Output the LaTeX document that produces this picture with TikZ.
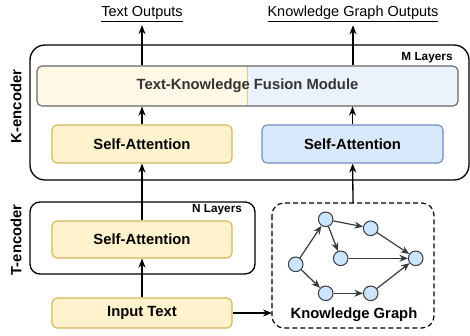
\documentclass[tikz,border=0pt]{standalone}
\usepackage{xcolor}
\usepackage{fontspec}
\setmainfont{Liberation Sans}
\usetikzlibrary{arrows.meta,positioning,calc}

\definecolor{yelfill}{HTML}{FFF2CC}
\definecolor{yelline}{HTML}{D6B656}
\definecolor{bluefill}{HTML}{DAE8FC}
\definecolor{blueline}{HTML}{6C8EBF}
\definecolor{fuseyel}{HTML}{FFF8E6}
\definecolor{fuseblue}{HTML}{EBF2FC}
\definecolor{nodefill}{HTML}{CCE5FF}
\definecolor{darkline}{HTML}{36393D}
\definecolor{fusetext}{HTML}{333333}

\tikzset{
	bigfont/.style={font=\fontsize{14.8}{16}\selectfont\bfseries},
	smallfont/.style={font=\fontsize{11.8}{13}\selectfont\bfseries},
	yelbox/.style={draw=yelline, fill=yelfill, line width=1.1pt, rounded corners=5pt, minimum width=180pt, bigfont},
	bluebox/.style={draw=blueline, fill=bluefill, line width=1.1pt, rounded corners=5pt, minimum width=181pt, bigfont},
	encbox/.style={draw, line width=1.3pt},
	kgnode/.style={circle, draw=darkline, fill=nodefill, line width=1pt, minimum size=14.6pt, inner sep=0pt},
	kgedge/.style={draw=darkline, line width=1.2pt, -{Stealth[length=8.5pt,width=7pt]}},
	flow/.style={line width=1.3pt, -{Stealth[length=9pt,width=7pt]}}
}

\begin{document}
\begin{tikzpicture}[x=1pt, y=-1pt]
	\useasboundingbox (0,0) rectangle (470,335);

	% encoder frames
	\draw [encbox, rounded corners=15pt] (30,45) rectangle (469,180);
	\draw [encbox, rounded corners=10pt] (30,202) rectangle (255,274);
	\draw [line width=1.2pt, dashed, dash pattern=on 5pt off 3pt, rounded corners=12pt] (272,203) rectangle (434,328);
	\coordinate (kgtop) at (353,203);
	\coordinate (kgleft) at (272,313);

	\node [bigfont, rotate=90] (kenc) at (16,106.5) {K-encoder};
	\node [bigfont, rotate=90] (tenc) at (16,240) {T-encoder};
	\node [smallfont] (mlay) at (427,58) {M Layers};
	\node [smallfont] (nlay) at (217,210) {N Layers};

	% fusion module, two halves
	\node [draw=gray!80!black, fill=fuseblue, line width=1.1pt, rounded corners=5pt,
		minimum width=421pt, minimum height=40pt, text=fusetext, bigfont,
		path picture={
			\fill [fuseyel] (path picture bounding box.north west) rectangle ([xshift=210pt]path picture bounding box.south west);
			\draw [yelline!70, line width=1pt] ([xshift=210pt]path picture bounding box.north west) -- ([xshift=210pt]path picture bounding box.south west);
		}] (fusion) at (247.5,86) {Text-Knowledge Fusion Module};

	% blocks
	\node [yelbox, minimum height=38pt] (ksa) at (142,144) {Self-Attention};
	\node [bluebox, minimum height=38pt] (gsa) at (352.5,144) {Self-Attention};
	\node [yelbox, minimum height=37pt] (tsa) at (142,239.5) {Self-Attention};
	\node [yelbox, minimum height=30pt] (input) at (142,313) {Input Text};

	% outputs
	\node [font=\fontsize{14.5}{16}\selectfont] (tout) at (142,14) {\underline{Text Outputs}};
	\node [font=\fontsize{14.5}{16}\selectfont] (gout) at (353,14) {\underline{Knowledge Graph Outputs}};

	% knowledge graph
	\node [kgnode] (a) at (295.7,264.3) {};
	\node [kgnode] (b) at (325.7,219.3) {};
	\node [kgnode] (c) at (370.7,228.3) {};
	\node [kgnode] (d) at (340.7,258.3) {};
	\node [kgnode] (e) at (415.7,258.3) {};
	\node [kgnode] (f) at (325.7,293.3) {};
	\node [kgnode] (g) at (370.7,293.3) {};
	\node [bigfont] (kglabel) at (354,315) {Knowledge Graph};

	\foreach \s/\t in {a/b, a/f, b/c, b/d, c/e, d/e, f/g, g/e}
		\draw [kgedge] (\s) -- (\t);

	% flow arrows
	\draw [flow] (input) -- (tsa);
	\draw [flow] (tsa) -- (ksa);
	\draw [flow] (ksa) -- (ksa |- fusion.south);
	\draw [flow] (gsa) -- (gsa |- fusion.south);
	\draw [flow] (kgtop) -- (gsa);
	\draw [flow] (input.east) -- (kgleft);
	\draw [flow] (tout |- fusion.north) -- (tout);
	\draw [flow] (gout |- fusion.north) -- (gout);
\end{tikzpicture}
\end{document}
